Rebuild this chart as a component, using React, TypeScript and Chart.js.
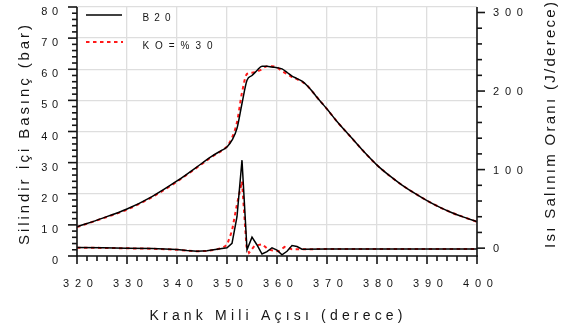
import React, { useEffect, useRef } from 'react';
import { Chart, registerables } from 'chart.js';

Chart.register(...registerables);

// ---- data ----
const pressureAngles = [320, 325, 330, 335, 340, 345, 347, 349, 350, 351, 352, 353, 354, 355, 356, 357, 358, 359, 360, 361, 362, 363, 364, 365, 366, 367, 368, 369, 370, 372, 375, 377.5, 380, 382.5, 385, 387.5, 390, 392.5, 395, 397.5, 400];
const pressureB20 = [9.4, 12.1, 15.1, 19.1, 24.1, 29.8, 32.1, 34.0, 35.0, 37.2, 41.0, 49.0, 56.5, 58.0, 59.6, 61.0, 61.0, 60.7, 60.5, 60.1, 59.0, 57.8, 57.0, 56.2, 54.8, 53.0, 51.0, 49.1, 47.2, 43.2, 37.8, 33.3, 29.2, 25.8, 22.8, 20.2, 17.8, 15.7, 13.9, 12.4, 11.0];
const pressureKO30 = [9.3, 12.0, 14.9, 18.9, 23.9, 29.6, 31.9, 33.9, 35.2, 38.0, 43.0, 52.5, 58.5, 58.9, 59.3, 60.0, 61.0, 61.0, 60.6, 59.4, 58.5, 57.5, 56.8, 56.0, 54.8, 53.0, 51.0, 49.1, 47.2, 43.2, 37.8, 33.3, 29.2, 25.8, 22.8, 20.2, 17.8, 15.7, 13.9, 12.4, 11.0];

const hrrAnglesB20 = [320, 325, 330, 335, 340, 342, 344, 346, 348, 349, 350, 351, 352, 353, 354, 355, 356, 357, 358, 359, 360, 361, 362, 363, 364, 365, 370, 380, 390, 400];
const hrrB20 = [0.8, 0.5, 0, -0.5, -1.8, -3, -3.8, -3.4, -1.5, -0.5, 0.5, 6, 40, 112, -2, 14, 4, -7.5, -4.5, 0.5, -2.5, -8.5, -4, 3.3, 2, -1.3, -1.2, -1.0, -1.1, -1.2];
const hrrAnglesKO30 = [320, 325, 330, 335, 340, 342, 344, 346, 348, 349, 350, 351, 352, 353, 353.9, 354.4, 355.5, 357, 358.3, 360.3, 361.5, 363, 365, 370, 380, 390, 400];
const hrrKO30 = [0.6, 0.3, -0.2, -0.7, -2, -3.2, -4, -3.6, -1.5, 0, 4, 22, 56, 85, 2, -6, 3, 5, -2, -4, 1.5, -1.3, -1.3, -1.2, -1.0, -1.1, -1.2];

const xTickLabels = ['320', '330', '340', '350', '360', '370', '380', '390', '400'];
const yTickLabels = ['0', '10', '20', '30', '40', '50', '60', '70', '80'];
const y2TickLabels = ['0', '100', '200', '300'];
const seriesNames = ['B20', 'KO=%30'];
const xTitle = 'Krank Mili Açısı (derece)';
const yTitle = 'Silindir İçi Basınç (bar)';
const y2Title = 'Isı Salınım Oranı (J/derece)';

const FONT = '"Liberation Sans", Arial, sans-serif';
const INK = '#151515';
const RED = '#ff1a1a';

function zip(xs: number[], ys: number[]) {
  return xs.map((x, i) => ({ x, y: ys[i] }));
}

function charWidths(ctx: CanvasRenderingContext2D, text: string) {
  return Array.from(text).map((c) => ctx.measureText(c).width);
}

function drawSpaced(ctx: CanvasRenderingContext2D, text: string, x: number, y: number, spacing: number, align: 'left' | 'center' | 'right') {
  const chars = Array.from(text);
  const w = charWidths(ctx, text);
  const total = w.reduce((a, b) => a + b, 0) + spacing * (chars.length - 1);
  let cx = align === 'left' ? x : align === 'center' ? x - total / 2 : x - total;
  ctx.textAlign = 'left';
  chars.forEach((c, i) => {
    ctx.fillText(c, cx, y);
    cx += w[i] + spacing;
  });
}

function drawFitted(ctx: CanvasRenderingContext2D, text: string, x: number, y: number, width: number, align: 'left' | 'center' | 'right') {
  const w = charWidths(ctx, text);
  const n = w.length;
  const spacing = n > 1 ? (width - w.reduce((a, b) => a + b, 0)) / (n - 1) : 0;
  drawSpaced(ctx, text, x, y, spacing, align);
}

const decorPlugin = {
  id: 'decor',
  afterDraw(chart: any) {
    const ctx: CanvasRenderingContext2D = chart.ctx;
    const { left, right, top, bottom } = chart.chartArea;
    const xs = chart.scales.x;
    const ys = chart.scales.y;
    const y2 = chart.scales.y2;
    ctx.save();
    ctx.strokeStyle = INK;
    ctx.fillStyle = INK;
    ctx.lineWidth = 1.6;
    ctx.lineCap = 'butt';
    const seg = (x1: number, y1: number, x2: number, y2_: number) => {
      ctx.beginPath();
      ctx.moveTo(x1, y1);
      ctx.lineTo(x2, y2_);
      ctx.stroke();
    };
    // axis lines
    seg(left, top, left, bottom + 0.8);
    seg(left - 0.8, bottom, right + 0.8, bottom);
    seg(right, top, right, bottom + 0.8);

    // x ticks (major 10, minor 2)
    for (let v = xs.min; v <= xs.max + 1e-6; v += 2) {
      const px = xs.getPixelForValue(v);
      const major = Math.abs(v % 10) < 1e-6;
      seg(px, bottom, px, bottom + (major ? 8 : 5));
    }
    // left y ticks (major 10, minor 2)
    for (let v = ys.min; v <= ys.max + 1e-6; v += 2) {
      const py = ys.getPixelForValue(v);
      const major = Math.abs(v % 10) < 1e-6;
      seg(left, py, left - (major ? 9 : 5), py);
    }
    // right y ticks (major 100, minor 20)
    for (let v = 0; v <= y2.max + 1e-6; v += 20) {
      const py = y2.getPixelForValue(v);
      const major = Math.abs(v % 100) < 1e-6;
      seg(right, py, right + (major ? 8 : 5), py);
    }

    // tick labels
    ctx.font = `11px ${FONT}`;
    ctx.textBaseline = 'alphabetic';
    xTickLabels.forEach((t) => {
      const px = xs.getPixelForValue(Number(t));
      drawSpaced(ctx, t, px + 1, bottom + 31, 5.8, 'center');
    });
    yTickLabels.forEach((t) => {
      const py = ys.getPixelForValue(Number(t));
      drawSpaced(ctx, t, left - 19, py + 8, 4.5, 'right');
    });
    y2TickLabels.forEach((t) => {
      const py = y2.getPixelForValue(Number(t));
      drawSpaced(ctx, t, right + 16, py + 4, 5.8, 'left');
    });

    // axis titles
    ctx.font = `14px ${FONT}`;
    drawFitted(ctx, xTitle, 276, 319.5, 253, 'center');

    ctx.font = `15px ${FONT}`;
    ctx.save();
    ctx.translate(28.5, 135);
    ctx.rotate(-Math.PI / 2);
    drawFitted(ctx, yTitle, 0, 0, 220, 'center');
    ctx.restore();

    ctx.save();
    ctx.translate(555, 125);
    ctx.rotate(-Math.PI / 2);
    drawFitted(ctx, y2Title, 0, 0, 246, 'center');
    ctx.restore();

    // legend
    ctx.lineWidth = 1.6;
    ctx.strokeStyle = '#000';
    seg(86, 15, 122, 15);
    ctx.strokeStyle = RED;
    ctx.lineWidth = 2;
    ctx.setLineDash([3.5, 3.5]);
    seg(86, 42, 123, 42);
    ctx.setLineDash([]);
    ctx.font = `10px ${FONT}`;
    ctx.fillStyle = INK;
    drawFitted(ctx, seriesNames[0], 142.5, 21, 28, 'left');
    drawFitted(ctx, seriesNames[1], 142.5, 48.5, 70, 'left');

    ctx.restore();
  },
};

export default function App() {
  const ref = useRef<HTMLCanvasElement | null>(null);
  useEffect(() => {
    if (!ref.current) return;
    const chart = new Chart(ref.current, {
      type: 'line',
      data: {
        datasets: [
          {
            label: seriesNames[0],
            data: zip(pressureAngles, pressureB20),
            yAxisID: 'y',
            borderColor: '#000',
            borderWidth: 1.5,
            pointRadius: 0,
            cubicInterpolationMode: 'monotone',
          },
          {
            label: seriesNames[0] + ' HRR',
            data: zip(hrrAnglesB20, hrrB20),
            yAxisID: 'y2',
            borderColor: '#000',
            borderWidth: 1.5,
            pointRadius: 0,
            tension: 0,
          },
          {
            label: seriesNames[1],
            data: zip(pressureAngles, pressureKO30),
            yAxisID: 'y',
            borderColor: RED,
            borderWidth: 2,
            borderDash: [3.5, 3.5],
            pointRadius: 0,
            cubicInterpolationMode: 'monotone',
          },
          {
            label: seriesNames[1] + ' HRR',
            data: zip(hrrAnglesKO30, hrrKO30),
            yAxisID: 'y2',
            borderColor: RED,
            borderWidth: 2,
            borderDash: [3.5, 3.5],
            pointRadius: 0,
            tension: 0,
          },
        ],
      },
      options: {
        responsive: false,
        maintainAspectRatio: false,
        animation: false,
        devicePixelRatio: 1,
        layout: { padding: { left: 77, right: 93, top: 7, bottom: 78 } },
        plugins: { legend: { display: false }, tooltip: { enabled: false }, title: { display: false } },
        scales: {
          x: {
            type: 'linear',
            min: 320,
            max: 400,
            ticks: { display: false, stepSize: 10 },
            grid: { color: '#dedede', lineWidth: 1.3, drawTicks: false },
            border: { display: false },
            afterFit: (s: any) => { s.height = 0; },
          },
          y: {
            type: 'linear',
            position: 'left',
            min: 0,
            max: 80,
            ticks: { display: false, stepSize: 10 },
            grid: { color: '#dedede', lineWidth: 1.3, drawTicks: false },
            border: { display: false },
            afterFit: (s: any) => { s.width = 0; },
          },
          y2: {
            type: 'linear',
            position: 'right',
            min: -10,
            max: 307,
            ticks: { display: false },
            grid: { display: false, drawTicks: false },
            border: { display: false },
            afterFit: (s: any) => { s.width = 0; },
          },
        },
      } as any,
      plugins: [decorPlugin],
    });
    return () => chart.destroy();
  }, []);
  return (
    <div style={{ position: 'fixed', left: 0, top: 0, width: 570, height: 334, background: '#fff' }}>
      <canvas ref={ref} width={570} height={334} style={{ display: 'block', width: 570, height: 334 }} />
    </div>
  );
}
